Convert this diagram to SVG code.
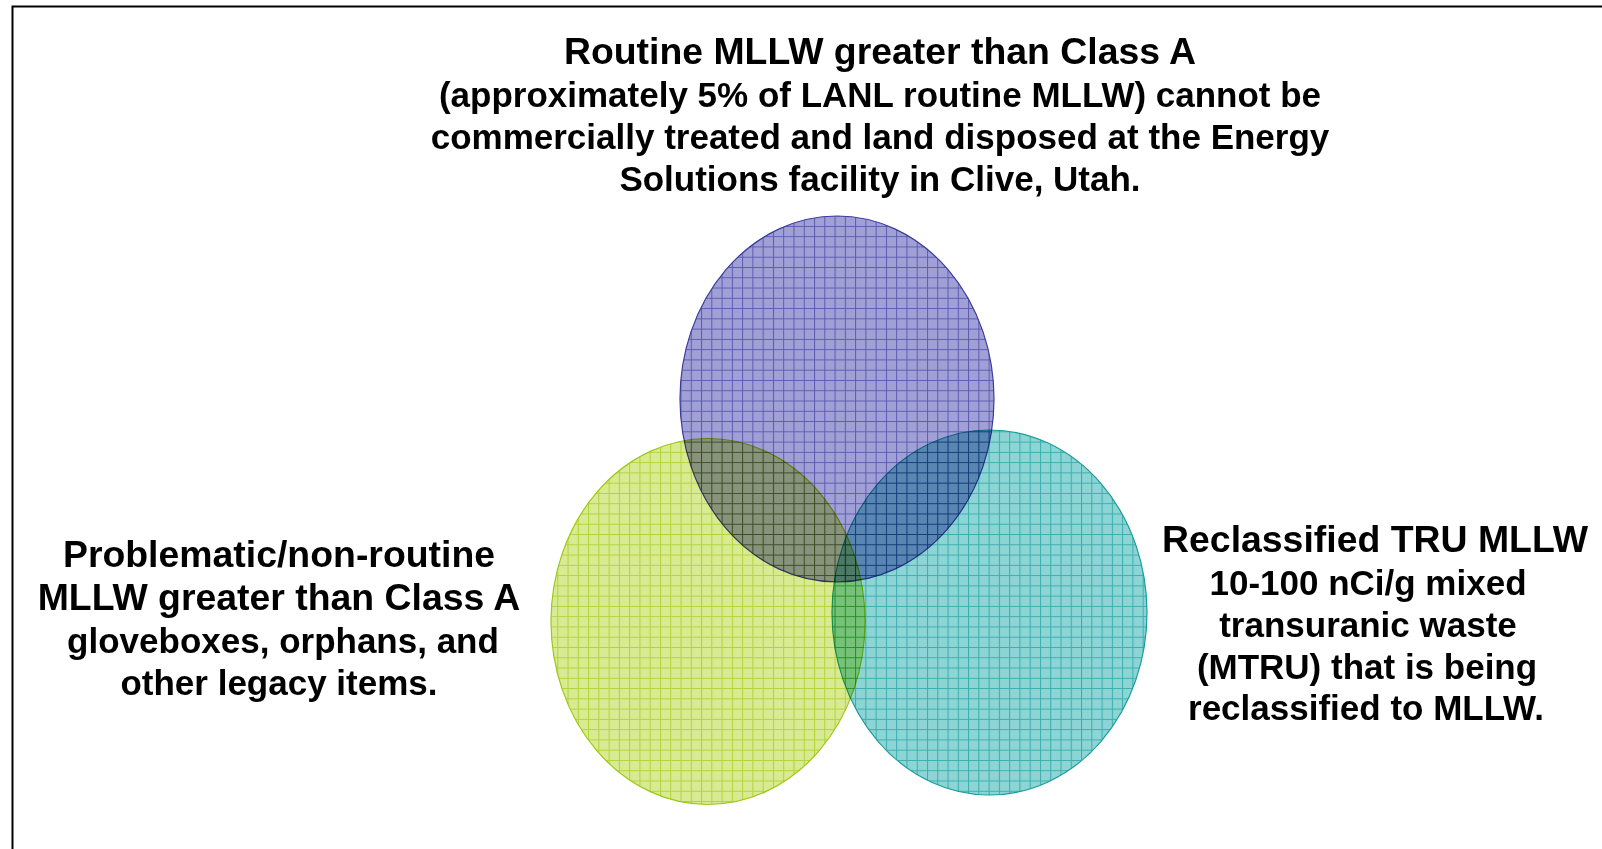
<svg xmlns="http://www.w3.org/2000/svg" width="1602" height="849" viewBox="0 0 1602 849">
  <style>
    .lbl { font-family: "Liberation Sans", Arial, sans-serif; font-weight: bold; fill: #000; text-anchor: middle; }
    .head { font-size: 37.4px; }
    .body { font-size: 35px; }
    .venn { mix-blend-mode: multiply; stroke-width: 1.2; }
  </style>
  <defs>
    <pattern id="gridBlue" patternUnits="userSpaceOnUse" x="680.5" y="0" width="10.27" height="10.27">
      <rect width="10.27" height="10.27" fill="#a0a0d6"/>
      <path d="M0.5 0V10.27M0 0.5H10.27" stroke="#5c5cb2" stroke-width="1"/>
    </pattern>
    <pattern id="gridGreen" patternUnits="userSpaceOnUse" x="680.5" y="0" width="10.27" height="10.27">
      <rect width="10.27" height="10.27" fill="#d8ea92"/>
      <path d="M0.5 0V10.27M0 0.5H10.27" stroke="#b2d43a" stroke-width="1"/>
    </pattern>
    <pattern id="gridTeal" patternUnits="userSpaceOnUse" x="680.5" y="0" width="10.27" height="10.27">
      <rect width="10.27" height="10.27" fill="#8dd4d4"/>
      <path d="M0.5 0V10.27M0 0.5H10.27" stroke="#3aaeae" stroke-width="1"/>
    </pattern>
  </defs>
  <rect width="1602" height="849" fill="#ffffff"/>
  <path d="M12.5 849V6.5H1602" fill="none" stroke="#000" stroke-width="2"/>

  <g id="node-routine">
    <ellipse class="venn" cx="837" cy="399" rx="157" ry="183" fill="url(#gridBlue)" stroke="#3c3c9e"/>
    <text class="lbl head" x="880" y="64">Routine MLLW greater than Class A</text>
    <text class="lbl body" x="880" y="106.5">(approximately 5% of LANL routine MLLW) cannot be</text>
    <text class="lbl body" x="880" y="149">commercially treated and land disposed at the Energy</text>
    <text class="lbl body" x="880" y="191">Solutions facility in Clive, Utah.</text>
  </g>

  <g id="node-reclassified">
    <ellipse class="venn" cx="989.5" cy="612.5" rx="157.5" ry="182.5" fill="url(#gridTeal)" stroke="#1a9c9c"/>
    <text class="lbl head" x="1375" y="552">Reclassified TRU MLLW</text>
    <text class="lbl body" x="1368" y="594.5">10-100 nCi/g mixed</text>
    <text class="lbl body" x="1368" y="637">transuranic waste</text>
    <text class="lbl body" x="1367" y="679">(MTRU) that is being</text>
    <text class="lbl body" x="1366" y="720">reclassified to MLLW.</text>
  </g>

  <g id="node-problematic">
    <ellipse class="venn" cx="708" cy="621.5" rx="157" ry="183" fill="url(#gridGreen)" stroke="#9ec814"/>
    <text class="lbl head" x="279" y="567">Problematic/non-routine</text>
    <text class="lbl head" x="279" y="610">MLLW greater than Class A</text>
    <text class="lbl body" x="283" y="653">gloveboxes, orphans, and</text>
    <text class="lbl body" x="279" y="695">other legacy items.</text>
  </g>

  <g id="connectors"/>
</svg>
